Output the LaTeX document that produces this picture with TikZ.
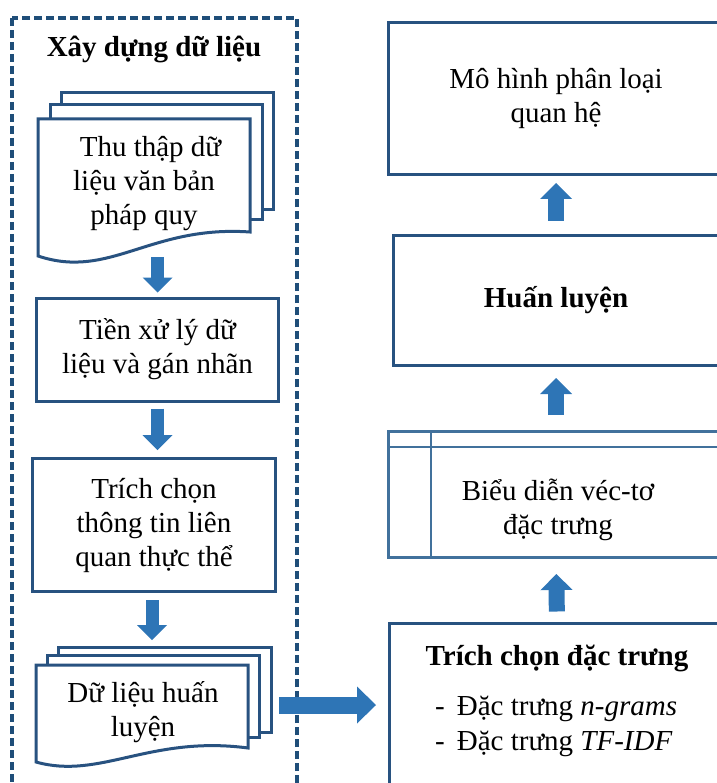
\documentclass[tikz,border=0pt]{standalone}
\usepackage{fontspec}
\setmainfont{Liberation Serif}
\usetikzlibrary{arrows.meta,calc}
\definecolor{edge}{RGB}{40,82,128}
\definecolor{edgelight}{RGB}{65,113,156}
\definecolor{frame}{RGB}{31,78,121}
\definecolor{arrowfill}{RGB}{46,117,182}
\begin{document}
\begin{tikzpicture}[x=1pt,y=-1pt,
  font=\fontsize{29}{34}\selectfont,
  box/.style={draw=edge, line width=3pt, fill=white, inner sep=0pt, align=center},
  docsheet/.style={draw=edge, line width=3pt, fill=white, line join=miter},
  txt/.style={align=center, inner sep=0pt},
  upbig/.style={draw=arrowfill, line width=16pt, -{Triangle[width=32pt,length=16pt,line width=0pt]}},
  downsmall/.style={draw=arrowfill, line width=13pt, -{Triangle[width=30pt,length=15pt,line width=0pt]}},
  rightbig/.style={draw=arrowfill, line width=17pt, -{Triangle[width=37pt,length=19pt,line width=0pt]}},
  frameline/.style={draw=frame, line width=3.2pt, dash pattern=on 8pt off 4pt}
]
\useasboundingbox (0,0) rectangle (716,783);

% dashed frame
\draw[frameline] (12,18) rectangle (297,810);
\node[txt, font=\fontsize{29}{34}\selectfont\bfseries] (title) at (154,49) {Xây dựng dữ liệu};

% multidocument 1
\draw[docsheet] (61,93) rectangle (273,210);
\draw[docsheet] (50,105) rectangle (262,220);
\draw[docsheet] (38,119) -- (250,119) -- (250,232) .. controls (150,225) and (110,280) .. (38,256) -- cycle;
\node[txt] (collect) at (144,184) {\hspace*{13pt}Thu thập dữ\\liệu văn bản\\pháp quy};
\coordinate (d1b) at (157.5,257);

% box pre-processing
\node[box, minimum width=242pt, minimum height=103pt] (pre) at (157.5,349.5) {Tiền xử lý dữ\\liệu và gán nhãn};

% box extraction
\node[box, minimum width=243pt, minimum height=133pt] (ext) at (154,525) {Trích chọn\\thông tin liên\\quan thực thể};

% multidocument 2
\draw[docsheet] (58,647) rectangle (271,732);
\draw[docsheet] (47,655) rectangle (259,737);
\draw[docsheet] (36,665) -- (248,665) -- (248,748) .. controls (150,735) and (100,780) .. (36,762) -- cycle;
\node[txt] (train) at (143,712) {Dữ liệu huấn\\luyện};
\coordinate (d2t) at (152,647);
\coordinate (d2r) at (271,705);

% right column
\node[box, minimum width=335pt, minimum height=152pt] (model) at (556,98.5) {Mô hình phân loại\\quan hệ};
\node[box, minimum width=325pt, minimum height=130pt, font=\fontsize{29}{34}\selectfont\bfseries] (huan) at (556,300.5) {Huấn luyện};
\node[box, draw=edgelight, minimum width=335pt, minimum height=126pt] (bieu) at (556,494.5) {};
\coordinate (hl) at (0,447);
\coordinate (vl) at (431,0);
\draw[edgelight, line width=2.6pt] (bieu.west |- hl) -- (bieu.east |- hl);
\draw[edgelight, line width=2.6pt] (vl |- bieu.north) -- (vl |- bieu.south);
\node[txt] (bieulbl) at (558,510) {Biểu diễn véc-tơ\\đặc trưng};

\node[box, minimum width=335pt, minimum height=190pt] (feat) at (557,718) {};
\node[inner sep=0pt, anchor=base, font=\fontsize{29}{34}\selectfont\bfseries] (feattitle) at (557,665) {Trích chọn đặc trưng};
\node[inner sep=0pt, anchor=base west] (ng) at (435,715) {-\hspace{12pt}Đặc trưng \textit{n-grams}};
\node[inner sep=0pt, anchor=base west] (tf) at (435,750) {-\hspace{12pt}Đặc trưng \textit{TF-IDF}};

% block arrows
\draw[downsmall, shorten >=4pt] (d1b) -- (d1b |- pre.north);
\draw[downsmall, shorten <=6pt, shorten >=7pt] (pre.south) -- (pre.south |- ext.north);
\draw[downsmall, shorten <=7pt, shorten >=7pt] (d2t |- ext.south) -- (d2t);
\draw[rightbig, shorten <=8pt, shorten >=12pt] (d2r) -- (d2r -| feat.west);
\draw[upbig, shorten <=10pt, shorten >=15pt] (feat.north) -- (bieu.south);
\draw[upbig, shorten <=15pt, shorten >=11pt] (bieu.north) -- (huan.south);
\draw[upbig, shorten <=13pt, shorten >=7pt] (huan.north) -- (model.south);
\end{tikzpicture}
\end{document}
